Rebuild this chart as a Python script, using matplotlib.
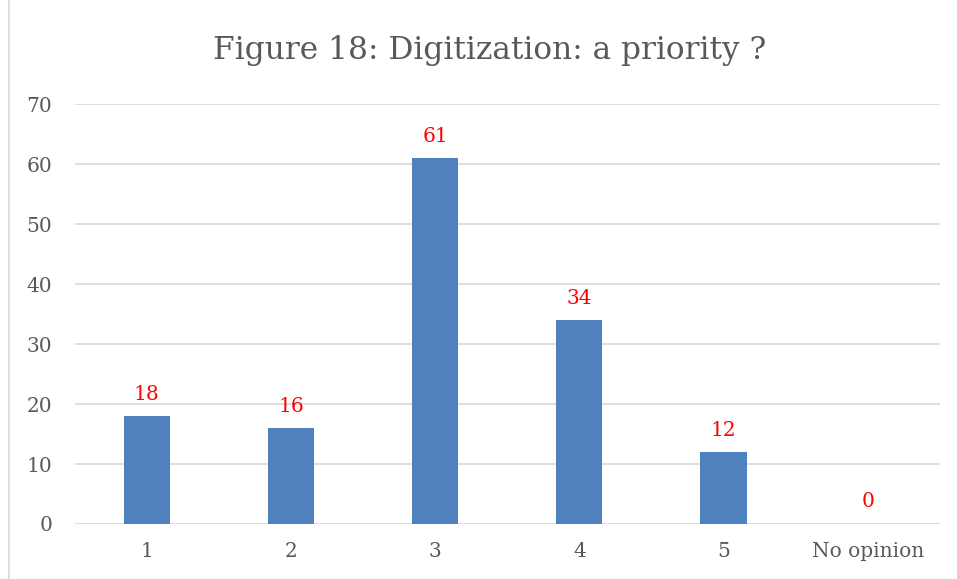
import matplotlib.pyplot as plt
import numpy as np

categories = ['1', '2', '3', '4', '5', 'No opinion']
values = [18, 16, 61, 34, 12, 0]
y_ticks = [0, 10, 20, 30, 40, 50, 60, 70]


def main():
    plt.rcParams['font.family'] = ['DejaVu Serif']
    fig = plt.figure(figsize=(9.57, 5.79), dpi=100)
    ax = fig.add_axes([0.078, 0.095, 0.904, 0.725])

    x = np.arange(len(categories))
    ax.bar(x, values, width=0.32, color='#4F81BD', zorder=3)

    for xi, v in zip(x, values):
        ax.annotate(str(v), (xi, v), xytext=(0, 9), textcoords='offset points',
                    ha='center', va='bottom', color='#FF0000', fontsize=14.5)

    # axes
    ax.set_xlim(-0.5, len(categories) - 0.5)
    ax.set_ylim(0, 70)
    ax.set_yticks(y_ticks)
    ax.set_xticks(x, labels=categories)
    ax.tick_params(axis='both', length=0, labelsize=14.5, labelcolor='#595959')
    ax.tick_params(axis='x', pad=13)
    ax.tick_params(axis='y', pad=16)
    for s in ax.spines.values():
        s.set_visible(False)
    ax.grid(axis='y', color='#D9D9D9', linewidth=1.2, zorder=0)
    ax.axhline(0, color='#D9D9D9', linewidth=1.2, zorder=1)

    fig.text(0.512, 0.912, 'Figure 18: Digitization: a priority ?', ha='center', va='center',
             fontsize=22.5, color='#595959')

    # left border of chart frame
    fig.add_artist(plt.Line2D([0.0099, 0.0099], [0, 1], color='#D9D9D9', linewidth=1.2))

    plt.savefig('out.png', dpi=100)


if __name__ == '__main__':
    main()
